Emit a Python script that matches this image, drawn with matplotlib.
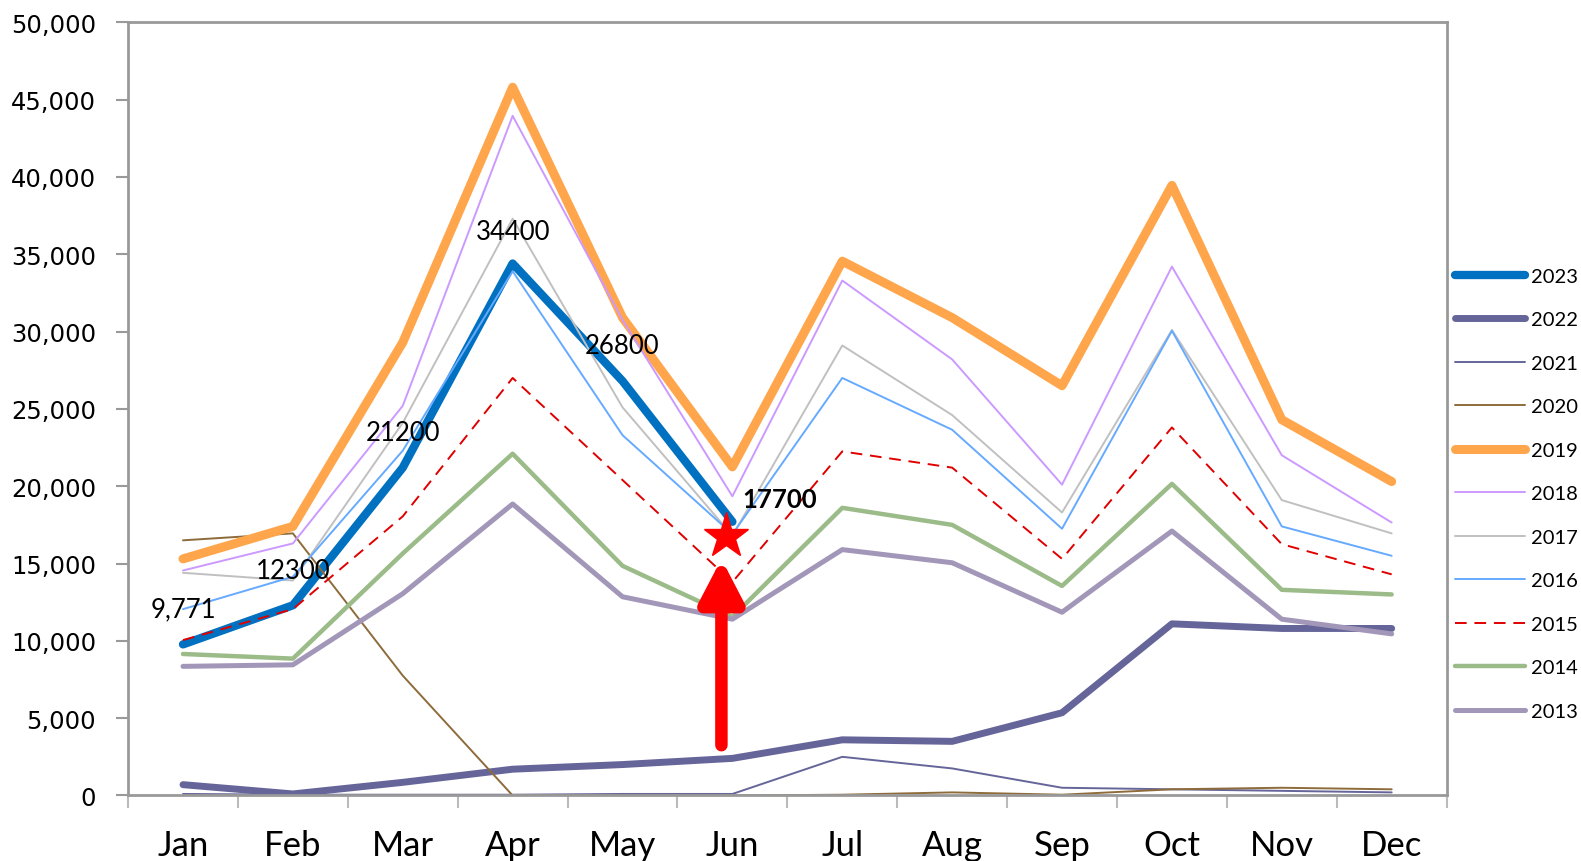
import matplotlib
matplotlib.use("Agg")
import matplotlib.pyplot as plt
from matplotlib.ticker import FuncFormatter, FixedLocator
import numpy as np

months = ["Jan", "Feb", "Mar", "Apr", "May", "Jun", "Jul", "Aug", "Sep", "Oct", "Nov", "Dec"]

y2023 = [9771, 12300, 21200, 34400, 26800, 17700]
y2022 = [700, 100, 850, 1700, 2000, 2400, 3600, 3500, 5350, 11100, 10800, 10800]
y2021 = [100, 50, 50, 50, 100, 100, 2500, 1750, 500, 400, 300, 200]
y2020 = [16500, 16950, 7750, 0, 0, 0, 50, 200, 50, 400, 500, 400]
y2019 = [15300, 17400, 29300, 45800, 30900, 21250, 34550, 30900, 26500, 39450, 24300, 20300]
y2018 = [14550, 16300, 25200, 43950, 30750, 19350, 33300, 28200, 20100, 34200, 22000, 17650]
y2017 = [14400, 13900, 24100, 37300, 25100, 16800, 29100, 24600, 18300, 30100, 19100, 16950]
y2016 = [12050, 14150, 22300, 33900, 23300, 16900, 27000, 23650, 17250, 30050, 17400, 15500]
y2015 = [10050, 12050, 18050, 27000, 20400, 13800, 22250, 21200, 15300, 23800, 16250, 14300]
y2014 = [9150, 8850, 15650, 22100, 14850, 11550, 18600, 17500, 13550, 20150, 13300, 13000]
y2013 = [8350, 8450, 13050, 18850, 12850, 11400, 15900, 15050, 11850, 17100, 11400, 10450]

labels_2023 = ["9,771", "12300", "21200", "34400", "26800", "17700"]

star_value = 16800
arrow_from = 3250
arrow_to = 15300

series = [
    ("2023", y2023, "#0070C0", 6.0, "-"),
    ("2022", y2022, "#65659A", 5.0, "-"),
    ("2021", y2021, "#65659A", 1.4, "-"),
    ("2020", y2020, "#8E6B3A", 1.4, "-"),
    ("2019", y2019, "#FFA64D", 6.5, "-"),
    ("2018", y2018, "#CC99FF", 1.4, "-"),
    ("2017", y2017, "#C0C0C0", 1.4, "-"),
    ("2016", y2016, "#66AAFF", 1.4, "-"),
    ("2015", y2015, "#E00000", 1.4, (0, (6, 4))),
    ("2014", y2014, "#9BBB88", 3.2, "-"),
    ("2013", y2013, "#A297B8", 3.6, "-"),
]

fig = plt.figure(figsize=(15.81, 8.62), dpi=100)
ax = fig.add_axes([0.081, 0.076, 0.834, 0.897])

x = np.arange(len(months))
for name, vals, color, lw, ls in series:
    ax.plot(x[:len(vals)], vals, color=color, lw=lw, ls=ls, label=name,
            solid_capstyle="round", solid_joinstyle="round")

# data labels for 2023
offsets = [(0.0, 2300), (0.0, 2250), (0.0, 2300), (0.0, 2100), (0.0, 2300), (0.43, 1500)]
for i, (lab, (dx, dy)) in enumerate(zip(labels_2023, offsets)):
    ax.text(x[i] + dx, y2023[i] + dy, lab, ha="center", va="center",
            fontsize=18.5, family=["Lato", "DejaVu Sans"],
            fontweight="bold" if i == 5 else "normal", color="black")

# arrow and star
ax.annotate("", xy=(4.9, arrow_to), xytext=(4.9, arrow_from),
            arrowprops=dict(arrowstyle="-|>,head_width=1.3,head_length=2.5",
                            color="red", lw=9, shrinkA=0, shrinkB=0))
ax.plot([4.94], [star_value], marker="*", color="red", markersize=34, zorder=10)

ax.set_xlim(-0.5, 11.5)
ax.set_ylim(0, 50000)
ax.set_yticks(np.arange(0, 50001, 5000))
ax.yaxis.set_major_formatter(FuncFormatter(lambda v, p: f"{int(v):,}"))
for lab in ax.get_yticklabels():
    lab.set_family("DejaVu Sans")
ax.tick_params(axis="y", labelsize=17.5, length=9, width=1.5, color="#999999", direction="out", pad=14)

ax.xaxis.set_major_locator(FixedLocator(np.arange(-0.5, 12, 1)))
ax.set_xticklabels([], minor=False)
ax.set_xticks(x, minor=True)
ax.set_xticklabels(months, minor=True, fontsize=25, family=["Lato", "DejaVu Sans"])
ax.tick_params(axis="x", which="major", length=9, width=1.5, color="#BBBBBB", direction="out")
ax.tick_params(axis="x", which="minor", length=0, pad=24)

for s in ax.spines.values():
    s.set_color("#999999")
    s.set_linewidth(2)

handles, labs = ax.get_legend_handles_labels()
leg = fig.legend(handles, labs, loc="center left", bbox_to_anchor=(0.909, 0.426),
                 frameon=False, handlelength=3.45, handletextpad=0.3,
                 labelspacing=1.31, prop={"family": ["Lato", "DejaVu Sans"], "size": 14.5})

fig.savefig("out.png", dpi=100, facecolor="white")
